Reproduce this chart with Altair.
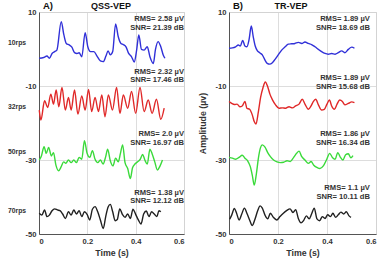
import altair as alt
import pandas as pd

# ---------------- QSS-VEP traces (time in s, amplitude in µV, offset per rate) ----------------
qss10_t = [0.001, 0.019, 0.033, 0.043, 0.054, 0.065, 0.074, 0.092, 0.103, 0.113, 0.125, 0.136, 0.147,
           0.157, 0.166, 0.177, 0.191, 0.202, 0.213, 0.227, 0.240, 0.254, 0.266, 0.277, 0.286, 0.295,
           0.305, 0.317, 0.328, 0.339, 0.349, 0.360, 0.371, 0.383, 0.394, 0.404, 0.413, 0.424, 0.435,
           0.448, 0.459, 0.473, 0.482, 0.493, 0.504, 0.514, 0.521]
qss10_v = [-2.5, -2.3, -1.9, -2.5, -1.2, -0.7, -0.3, 7.4, 3.8, 1.5, 1.1, 0.5, -1.0,
           -1.2, -1.0, -2.1, 4.4, 0.6, -0.7, -0.7, -1.9, -3.2, -3.4, -1.9, -0.5, -1.6,
           -0.7, 6.8, 3.3, 1.5, 1.2, 0.6, -1.2, -2.1, -3.5, -0.3, 3.8, -0.1, -0.3,
           0.6, -2.1, -3.9, -0.1, 2.0, 0.6, -1.6, -2.5]

qss32_t = [0.001, 0.008, 0.023, 0.036, 0.049, 0.060, 0.071, 0.082, 0.095, 0.109, 0.122, 0.133, 0.147,
           0.161, 0.177, 0.191, 0.205, 0.218, 0.232, 0.246, 0.260, 0.273, 0.287, 0.304, 0.321, 0.335,
           0.349, 0.367, 0.383, 0.400, 0.418, 0.435, 0.452, 0.468, 0.486, 0.504, 0.518]
qss32_v = [-16.5, -19.2, -14.0, -15.8, -12.2, -14.9, -11.1, -15.6, -10.4, -16.5, -13.1, -16.5, -11.1,
           -17.6, -12.7, -16.5, -10.9, -16.9, -13.1, -16.9, -12.4, -18.3, -12.4, -16.5, -10.4, -17.4,
           -12.4, -16.0, -11.5, -17.4, -10.4, -16.9, -13.8, -17.4, -13.6, -19.0, -16.0]

qss50_t = [0.001, 0.010, 0.021, 0.030, 0.040, 0.051, 0.060, 0.070, 0.081, 0.092, 0.102, 0.111, 0.122,
           0.133, 0.144, 0.155, 0.166, 0.177, 0.188, 0.199, 0.210, 0.221, 0.232, 0.243, 0.254, 0.265,
           0.276, 0.284, 0.295, 0.306, 0.317, 0.328, 0.337, 0.346, 0.356, 0.367, 0.378, 0.387, 0.397,
           0.408, 0.419, 0.429, 0.438, 0.448, 0.459, 0.468, 0.479, 0.490, 0.501, 0.511]
qss50_v = [-30.0, -28.9, -26.4, -28.2, -26.6, -28.9, -28.0, -31.4, -32.9, -31.8, -30.5, -30.9, -30.0,
           -30.7, -30.0, -30.7, -29.3, -29.8, -24.8, -28.2, -29.3, -27.5, -29.8, -30.7, -30.0, -31.1,
           -29.1, -27.1, -30.2, -31.6, -29.5, -30.5, -28.2, -25.9, -30.7, -32.3, -35.0, -32.1, -31.1,
           -30.5, -29.8, -28.5, -30.0, -31.1, -27.1, -28.3, -30.5, -32.7, -31.6, -30.0]

qss70_t = [0.001, 0.012, 0.023, 0.033, 0.043, 0.054, 0.065, 0.076, 0.087, 0.098, 0.109, 0.122, 0.133,
           0.144, 0.155, 0.166, 0.177, 0.188, 0.199, 0.210, 0.221, 0.232, 0.243, 0.254, 0.266, 0.276,
           0.286, 0.295, 0.305, 0.315, 0.324, 0.334, 0.345, 0.356, 0.367, 0.378, 0.389, 0.400, 0.411,
           0.422, 0.433, 0.444, 0.455, 0.466, 0.477, 0.488, 0.496, 0.504]
qss70_v = [-44.4, -44.9, -43.5, -45.3, -44.9, -43.7, -43.2, -43.5, -43.7, -44.6, -45.8, -44.0, -44.9,
           -43.5, -44.6, -43.7, -45.3, -44.0, -44.7, -46.2, -43.3, -42.6, -44.0, -46.2, -48.5, -45.3,
           -42.7, -42.0, -44.0, -46.4, -46.1, -43.2, -44.7, -45.5, -44.6, -45.8, -43.3, -44.7, -46.2,
           -47.3, -44.6, -43.8, -45.3, -44.0, -44.6, -45.3, -43.7, -44.0]

# ---------------- TR-VEP traces ----------------
tr10_t = [0.000, 0.014, 0.027, 0.038, 0.046, 0.056, 0.065, 0.073, 0.082, 0.091, 0.099, 0.107, 0.116,
          0.125, 0.136, 0.147, 0.156, 0.166, 0.177, 0.188, 0.201, 0.215, 0.229, 0.242, 0.256, 0.269,
          0.283, 0.297, 0.310, 0.324, 0.337, 0.351, 0.365, 0.378, 0.392, 0.405, 0.419, 0.433, 0.446,
          0.460, 0.473, 0.487, 0.501, 0.512]
tr10_v = [0.2, 0.3, 0.6, 1.1, 0.8, 2.3, 0.8, 0.6, 2.6, 6.2, 3.3, 0.8, -0.5,
          -1.0, -1.6, -3.0, -3.9, -4.1, -3.7, -2.8, -1.6, -0.3, 0.6, 1.3, 1.4, 1.5,
          1.8, 1.5, 1.9, 1.5, 1.2, 0.6, -0.1, -0.7, -1.2, -1.4, -1.2, -1.4, -1.0,
          -0.5, -1.0, -0.1, 0.5, 0.2]

tr32_t = [0.000, 0.011, 0.022, 0.033, 0.044, 0.054, 0.065, 0.073, 0.084, 0.095, 0.103, 0.110, 0.120,
          0.129, 0.139, 0.148, 0.158, 0.167, 0.178, 0.190, 0.204, 0.218, 0.231, 0.245, 0.259, 0.272,
          0.286, 0.299, 0.310, 0.324, 0.335, 0.344, 0.354, 0.365, 0.378, 0.389, 0.400, 0.410, 0.419,
          0.430, 0.441, 0.452, 0.463, 0.473, 0.487, 0.501, 0.512]
tr32_v = [-14.2, -14.7, -15.0, -14.9, -15.6, -15.4, -14.2, -16.0, -16.3, -17.8, -19.6, -20.3, -16.9,
          -13.1, -10.4, -8.9, -10.2, -12.2, -13.8, -15.1, -16.0, -15.9, -16.0, -15.6, -15.9, -15.4,
          -14.9, -13.6, -14.9, -16.3, -15.4, -14.2, -13.6, -15.1, -16.5, -16.3, -14.9, -13.8, -15.4,
          -16.3, -14.9, -13.8, -14.2, -15.1, -14.7, -14.3, -14.5]

tr50_t = [0.000, 0.014, 0.027, 0.041, 0.054, 0.065, 0.076, 0.087, 0.095, 0.103, 0.112, 0.120, 0.128,
          0.136, 0.147, 0.158, 0.169, 0.182, 0.196, 0.210, 0.223, 0.237, 0.250, 0.264, 0.276, 0.286,
          0.297, 0.310, 0.324, 0.335, 0.346, 0.359, 0.371, 0.385, 0.399, 0.411, 0.422, 0.433, 0.444,
          0.454, 0.465, 0.476, 0.487, 0.497, 0.506]
tr50_v = [-29.3, -29.5, -29.8, -29.3, -28.7, -29.5, -30.2, -31.8, -34.1, -36.8, -33.6, -29.5, -26.8,
          -25.9, -26.5, -28.0, -29.1, -30.0, -30.5, -30.7, -30.6, -30.2, -30.4, -29.3, -28.2, -27.6,
          -29.1, -30.0, -30.9, -30.4, -31.4, -32.0, -32.3, -31.6, -29.8, -28.2, -29.3, -29.8, -28.0,
          -29.2, -30.0, -28.6, -28.3, -29.4, -28.8]

tr70_t = [0.003, 0.011, 0.022, 0.031, 0.041, 0.052, 0.063, 0.073, 0.084, 0.095, 0.106, 0.117, 0.127,
          0.136, 0.147, 0.158, 0.169, 0.181, 0.195, 0.208, 0.222, 0.235, 0.249, 0.261, 0.272, 0.283,
          0.294, 0.305, 0.316, 0.327, 0.337, 0.348, 0.359, 0.370, 0.381, 0.392, 0.403, 0.414, 0.424,
          0.435, 0.446, 0.457, 0.468, 0.479, 0.490, 0.498]
tr70_v = [-46.0, -44.9, -43.1, -44.4, -46.2, -44.6, -43.0, -44.4, -46.2, -47.7, -46.0, -43.7, -42.4,
          -43.0, -44.9, -45.9, -44.4, -45.5, -46.2, -45.3, -44.4, -43.7, -43.2, -44.2, -43.4, -45.8,
          -47.0, -46.3, -45.1, -45.9, -44.6, -43.0, -45.9, -46.4, -45.3, -45.8, -44.8, -45.3, -44.4,
          -45.5, -44.8, -44.1, -44.6, -44.0, -45.1, -45.5]

# ---------------- labels ----------------
rates = ["10rps", "32rps", "50rps", "70rps"]
rate_label_level = [1.6, -15.7, -27.8, -43.8]
series_colors = ["#3030d8", "#e02828", "#3ada3a", "#202020"]

qss_rms = ["RMS= 2.58 µV", "RMS= 2.32 µV", "RMS= 2.0 µV", "RMS= 1.38 µV"]
qss_snr = ["SNR= 21.39 dB", "SNR= 17.46 dB", "SNR= 16.97 dB", "SNR= 12.12 dB"]
qss_rms_level = [8.1, -6.1, -23.0, -38.8]
qss_snr_level = [5.7, -8.5, -25.4, -41.2]

tr_rms = ["RMS= 1.89 µV", "RMS= 1.89 µV", "RMS= 1.86 µV", "RMS= 1.1 µV"]
tr_snr = ["SNR= 18.69 dB", "SNR= 15.68 dB", "SNR= 16.34 dB", "SNR= 10.11 dB"]
tr_rms_level = [8.0, -7.8, -23.0, -37.6]
tr_snr_level = [5.6, -10.2, -25.4, -40.0]

FONT = "Liberation Sans"
TEXT_COLOR = "#333333"


def trace_frame(traces):
    rows = []
    for rate, (ts, vs) in zip(rates, traces):
        for t, v in zip(ts, vs):
            rows.append({"rate": rate, "t": t, "v": v})
    return pd.DataFrame(rows)


def note_frame(rms, snr, rms_lvl, snr_lvl, t_right):
    rows = []
    for a, b, ya, yb in zip(rms, snr, rms_lvl, snr_lvl):
        rows.append({"t": t_right, "v": ya, "label": a})
        rows.append({"t": t_right, "v": yb, "label": b})
    return pd.DataFrame(rows)


x_ticks = [round(i * 0.05, 2) for i in range(13)]
y_ticks = [-50 + i * 2.5 for i in range(25)]

grid_dash_x = {"condition": {"test": "round(datum.value*20) % 4 == 0", "value": []}, "value": [2, 2]}
grid_dash_y = {"condition": {"test": "round(datum.value*2) % 20 == 0", "value": []}, "value": [2, 2]}


def panel(traces, notes, letter, name, name_x, width, show_rates, y_title):
    x_enc = alt.X("t:Q", scale=alt.Scale(domain=[0, 0.6], nice=False),
                  axis=alt.Axis(values=x_ticks, title="Time (s)",
                                labelExpr="round(datum.value*20) % 4 == 0 ? (datum.value == 0 ? '0' : format(datum.value, '.1f')) : ''",
                                gridDash=grid_dash_x))
    y_enc = alt.Y("v:Q", scale=alt.Scale(domain=[-50, 10], nice=False),
                  axis=alt.Axis(values=y_ticks, title=y_title,
                                labelExpr="round(datum.value*2) % 20 == 0 ? toString(datum.value) : ''",
                                gridDash=grid_dash_y))

    lines = alt.Chart(trace_frame(traces)).mark_line(strokeWidth=1.4, interpolate="monotone").encode(
        x=x_enc, y=y_enc,
        color=alt.Color("rate:N", scale=alt.Scale(domain=rates, range=series_colors), legend=None),
        detail="rate:N",
    )
    text = alt.Chart(notes).mark_text(align="right", baseline="middle", font=FONT, fontWeight="bold",
                                      fontSize=7.6, color=TEXT_COLOR).encode(
        x="t:Q", y="v:Q", text="label:N")
    letter_mark = alt.Chart(pd.DataFrame({"s": [letter]})).mark_text(
        align="left", baseline="middle", font=FONT, fontWeight="bold", fontSize=9.5, color="#111").encode(
        x=alt.value(4), y=alt.value(-6), text="s:N")
    name_mark = alt.Chart(pd.DataFrame({"s": [name]})).mark_text(
        align="center", baseline="middle", font=FONT, fontWeight="bold", fontSize=9, color="#111").encode(
        x=alt.value(name_x), y=alt.value(-6), text="s:N")
    layers = [lines, text, letter_mark, name_mark]
    if show_rates:
        rate_mark = alt.Chart(pd.DataFrame({"s": rates, "v": rate_label_level})).mark_text(
            align="left", baseline="middle", font=FONT, fontWeight="bold", fontSize=6.8,
            color=TEXT_COLOR).encode(x=alt.value(-31), y="v:Q", text="s:N")
        layers.append(rate_mark)
    return alt.layer(*layers).properties(width=width, height=222)


left = panel(
    [(qss10_t, qss10_v), (qss32_t, qss32_v), (qss50_t, qss50_v), (qss70_t, qss70_v)],
    note_frame(qss_rms, qss_snr, qss_rms_level, qss_snr_level, 0.6),
    "A)", "QSS-VEP", 72, 145, True, "")
right = panel(
    [(tr10_t, tr10_v), (tr32_t, tr32_v), (tr50_t, tr50_v), (tr70_t, tr70_v)],
    note_frame(tr_rms, tr_snr, tr_rms_level, tr_snr_level, 0.575),
    "B)", "TR-VEP", 62, 147, False, "Amplitude (µv)")

chart = alt.hconcat(left, right, spacing=12).properties(
    padding={"left": 7, "top": 0, "right": 2, "bottom": 2},
    background="white",
).configure_axis(
    labelFont=FONT, labelFontWeight="bold", labelFontSize=7.6, labelColor=TEXT_COLOR,
    titleFont=FONT, titleFontWeight="bold", titleFontSize=8.8, titleColor=TEXT_COLOR,
    gridColor="#d4d4d4", gridWidth=0.8, domainColor="#555555", domainWidth=1,
    ticks=False, labelPadding=3, titlePadding=4,
).configure_axisY(titlePadding=8).configure_view(stroke="#cccccc")

chart.save("out.html", embed_options={"renderer": "svg", "actions": False})
